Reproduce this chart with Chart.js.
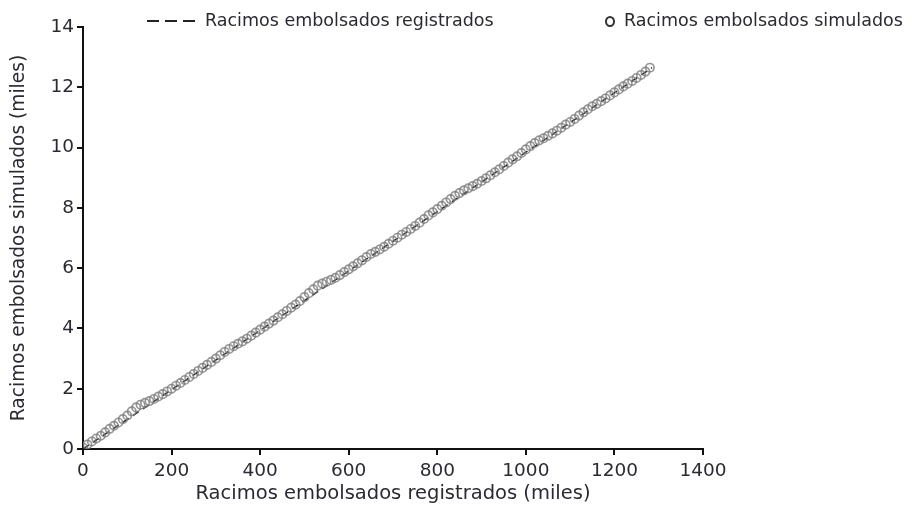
<!DOCTYPE html>
<html>
<head>
<meta charset="utf-8">
<script src="https://cdn.jsdelivr.net/npm/chart.js@4.4.1/dist/chart.umd.min.js"></script>
<style>
  body { margin: 0; background: #fff; }
  #wrap { position: relative; width: 912px; height: 506px; }
  .leg { position: absolute; top: 9px; font-family: "DejaVu Sans", Verdana, sans-serif; font-size: 17.5px; color: #2a2a33; white-space: nowrap; line-height: 22px; }
  .dash { display: inline-block; width: 48px; height: 1.6px; background: repeating-linear-gradient(to right, #222 0 12px, transparent 12px 18px); vertical-align: middle; margin-right: 10px; }
  .ring { display: inline-block; width: 6px; height: 7px; border: 2px solid #333; border-radius: 50%; vertical-align: middle; margin-right: 9px; }
</style>
</head>
<body>
<div id="wrap">
  <canvas id="myChart" width="912" height="506"></canvas>
  <div class="leg" style="left:147px"><span class="dash"></span>Racimos embolsados registrados</div>
  <div class="leg" style="left:605px"><span class="ring"></span>Racimos embolsados simulados</div>
</div>
<script>
// --- datos ---
const xTicks = [0, 200, 400, 600, 800, 1000, 1200, 1400];
const yTicks = [0, 2, 4, 6, 8, 10, 12, 14];

// racimos registrados (miles) en el eje x
const registrados = [
  0, 10, 20, 30, 40, 50, 60, 70, 80, 90,
  100, 110, 120, 130, 140, 150, 160, 170, 180, 190,
  200, 210, 220, 230, 240, 250, 260, 270, 280, 290,
  300, 310, 320, 330, 340, 350, 360, 370, 380, 390,
  400, 410, 420, 430, 440, 450, 460, 470, 480, 490,
  500, 510, 520, 530, 540, 550, 560, 570, 580, 590,
  600, 610, 620, 630, 640, 650, 660, 670, 680, 690,
  700, 710, 720, 730, 740, 750, 760, 770, 780, 790,
  800, 810, 820, 830, 840, 850, 860, 870, 880, 890,
  900, 910, 920, 930, 940, 950, 960, 970, 980, 990,
  1000, 1010, 1020, 1030, 1040, 1050, 1060, 1070, 1080, 1090,
  1100, 1110, 1120, 1130, 1140, 1150, 1160, 1170, 1180, 1190,
  1200, 1210, 1220, 1230, 1240, 1250, 1260, 1270, 1280
];

// racimos simulados (miles)
const simulados = [
  0.05, 0.15, 0.25, 0.35, 0.44, 0.55, 0.67, 0.77, 0.88, 0.99,
  1.11, 1.25, 1.38, 1.47, 1.53, 1.59, 1.66, 1.74, 1.82, 1.91,
  2.00, 2.10, 2.19, 2.29, 2.39, 2.49, 2.59, 2.69, 2.79, 2.89,
  3.00, 3.11, 3.22, 3.32, 3.41, 3.49, 3.57, 3.66, 3.76, 3.86,
  3.96, 4.06, 4.16, 4.26, 4.37, 4.47, 4.58, 4.69, 4.79, 4.91,
  5.04, 5.17, 5.30, 5.42, 5.49, 5.55, 5.61, 5.68, 5.77, 5.87,
  5.96, 6.06, 6.16, 6.26, 6.37, 6.47, 6.54, 6.62, 6.71, 6.81,
  6.91, 7.01, 7.11, 7.20, 7.30, 7.40, 7.51, 7.63, 7.75, 7.85,
  7.96, 8.07, 8.18, 8.29, 8.40, 8.49, 8.58, 8.65, 8.72, 8.80,
  8.89, 8.98, 9.08, 9.18, 9.28, 9.39, 9.50, 9.61, 9.71, 9.82,
  9.94, 10.05, 10.15, 10.24, 10.31, 10.39, 10.47, 10.56, 10.66, 10.76,
  10.85, 10.95, 11.06, 11.17, 11.27, 11.37, 11.45, 11.54, 11.63, 11.73,
  11.83, 11.93, 12.03, 12.12, 12.21, 12.31, 12.41, 12.52, 12.65
];

// linea de registrados (discontinua)
const lineaX = [0, 1285];
const lineaY = [0, 12.65];

const FONT = '"DejaVu Sans", Verdana, sans-serif';
const TXT = '#2a2a33';

const ctx = document.getElementById('myChart').getContext('2d');
new Chart(ctx, {
  type: 'scatter',
  data: {
    datasets: [
      {
        label: 'Racimos embolsados simulados',
        data: registrados.map((x, i) => ({ x: x, y: simulados[i] })),
        pointStyle: 'circle',
        pointRadius: 4.2,
        borderWidth: 1.7,
        borderColor: 'rgba(125,125,125,0.8)',
        backgroundColor: 'rgba(0,0,0,0)'
      },
      {
        label: 'Racimos embolsados registrados',
        type: 'line',
        data: lineaX.map((x, i) => ({ x: x, y: lineaY[i] })),
        borderColor: '#222',
        borderWidth: 1.5,
        borderDash: [7, 5],
        pointRadius: 0,
        fill: false
      }
    ]
  },
  options: {
    responsive: false,
    animation: false,
    layout: { padding: { left: 4, right: 209, top: 27, bottom: 0 } },
    plugins: { legend: { display: false }, tooltip: { enabled: false } },
    scales: {
      x: {
        type: 'linear',
        min: 0, max: 1400,
        afterBuildTicks: s => { s.ticks = xTicks.map(v => ({ value: v })); },
        grid: { drawOnChartArea: false, drawTicks: true, tickLength: 6, color: '#111', lineWidth: 2 },
        border: { display: true, color: '#111', width: 2 },
        ticks: { color: TXT, font: { family: FONT, size: 18.5 }, padding: 5, callback: v => String(v) },
        title: { display: true, text: 'Racimos embolsados registrados (miles)', color: TXT, font: { family: FONT, size: 19.5 }, padding: { top: 0, bottom: 0 } },
        afterFit: s => { s.height = 57; }
      },
      y: {
        type: 'linear',
        min: 0, max: 14,
        afterBuildTicks: s => { s.ticks = yTicks.map(v => ({ value: v })); },
        grid: { drawOnChartArea: false, drawTicks: true, tickLength: 6, color: '#111', lineWidth: 2 },
        border: { display: true, color: '#111', width: 2 },
        ticks: { color: TXT, font: { family: FONT, size: 18.5 }, padding: 3, callback: v => String(v) },
        title: { display: true, text: 'Racimos embolsados simulados (miles)', color: TXT, font: { family: FONT, size: 18.6 }, padding: { top: 4, bottom: 4 } },
        afterFit: s => { s.width = 79; }
      }
    }
  }
});
</script>
</body>
</html>
